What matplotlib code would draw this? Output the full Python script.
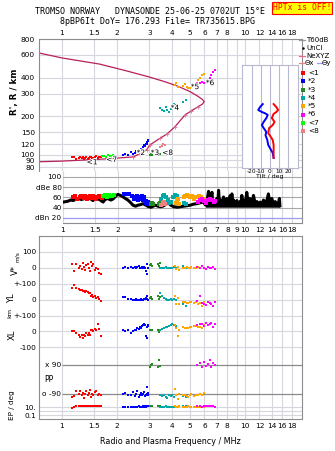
import matplotlib
matplotlib.use("Agg")
import numpy as np
import matplotlib.pyplot as plt
import matplotlib.patheffects as pe
from matplotlib.lines import Line2D

W, H = 335, 451

FREQ_TICKS = [1, 1.5, 2, 3, 4, 5, 6, 7, 8, 10, 12, 14, 16, 18]
FREQ_TICKS_MID = [1, 1.5, 2, 3, 4, 5, 6, 7, 8, 9, 10, 12, 14, 16, 18]
HEIGHT_TICKS = [80, 90, 100, 120, 150, 200, 300, 400, 600, 800]
AMP_TICKS = [100, 80, 60, 40, 20]
AMP_TICK_LABELS = ["100", "dBe 80", "60", "40", "dBn 20"]

# model / real height profile (MHz, km)
PROFILE_F = [0.75, 1.0, 1.6, 2.2, 3.0, 3.65, 4.3, 5.0, 5.5, 5.85, 5.99, 5.85, 5.55,
             5.1, 4.7, 4.14, 3.75, 3.43, 3.02, 2.9, 2.67, 2.45, 2.0, 1.61, 1.0, 0.75]
PROFILE_H = [622, 569, 510, 455, 404, 371, 342, 311, 287, 270, 259, 248, 237,
             220, 204, 165, 145, 134, 119, 109, 102, 96, 94, 92, 89, 88]

# echo groups: frequency, virtual height, amplitude, V*, YL, XL, PP, EP
ECHO1_F = [1.14, 1.17, 1.20, 1.24, 1.26, 1.28, 1.30, 1.32, 1.34, 1.36, 1.38,
           1.40, 1.42, 1.44, 1.46, 1.48, 1.51, 1.54, 1.57, 1.60, 1.64]
ECHO1_H = [95, 96, 93, 94, 95, 94, 96, 93, 94, 95, 93, 94, 96, 95, 93, 94, 95, 97, 94, 96, 95]
ECHO1_AMP = [60, 62, 58, 61, 63, 60, 59, 62, 61, 58, 60, 63, 61, 59, 62, 60, 58, 61, 63, 60, 59]
ECHO1_V = [23, -23, 19, -2, 8, -8, 29, 4, -13, 13, 19, -2, -23, 33, 8, 19, -13, -2, -8, -33, -38]
ECHO1_YL = [69, 90, 75, 67, 60, 58, 52, 55, 48, 52, 46, 42, 38, 21, 31, 17, 25, 10, 17, 5, -10]
ECHO1_XL = [2, 2, -10, -19, -33, -25, -40, -19, -30, -8, -25, -8, -19, 8, 12, 2, 17, 8, 44, 17, -29]
ECHO1_PP = [-107, -102, -75, -90, -69, -96, -82, -117, -90, -75, -96, -86, -65, -107,
            -90, -96, -80, -70, -95, -90, -100]
ECHO1_EP = [7, 12, 16, 18, 15, 17, 18, 16, 14, 18, 17, 15, 18, 16, 17, 15, 18, 16, 14, 17, 15]

ECHO2_F = [2.16, 2.22, 2.30, 2.38, 2.45, 2.50, 2.55, 2.58, 2.62, 2.66, 2.70,
           2.73, 2.76, 2.80, 2.84, 2.87, 2.90, 2.92, 2.94, 2.96]
ECHO2_H = [100, 101, 99, 105, 102, 103, 106, 104, 109, 107, 110, 108, 114, 118,
           116, 122, 125, 120, 127, 131]
ECHO2_AMP = [67, 66, 67, 62, 58, 60, 63, 56, 61, 58, 62, 57, 55, 60, 54, 50, 48, 51, 49, 50]
ECHO2_V = [0, 2, -2, 4, 0, 6, -4, 2, 8, -2, 0, 4, -6, 2, 0, -23, -38, 19, 0, -4]
ECHO2_YL = [17, 15, 5, 2, 0, -4, 4, -2, 0, -6, 2, -2, 0, 4, 6, 10, 25, 2, 0, -2]
ECHO2_XL = [8, 4, 12, -8, 6, 12, 10, 23, 18, 29, 25, 35, 38, 44, 40, -29, -40, 30, 35, 42]
ECHO2_PP = [-90, -85, -100, -95, -80, -105, -90, -75, -110, -95, -85, -100, -90,
            -80, -105, -95, -50, -90, -100, -85]
ECHO2_EP = [8, 10, 12, 9, 11, 13, 10, 12, 14, 11, 12, 13, 15, 12, 14, 13, 16, 14, 15, 17]

ECHO3_F = [3.04, 3.08, 3.12, 3.36, 3.40, 3.44]
ECHO3_H = [100, 101, 99, 100, 102, 101]
ECHO3_AMP = [48, 49, 47, 48, 50, 49]
ECHO3_V = [15, 25, 10, 20, 8, 30]
ECHO3_YL = [10, 17, 4, 25, 5, 15]
ECHO3_XL = [12, 10, 12, 8, -5, 10]
ECHO3_PP = [80, 88, 95, 75, 120, 85]
ECHO3_EP = [17, 18, 16, 15, 17, 18]

ECHO4_F = [3.45, 3.52, 3.60, 3.68, 3.76, 3.84, 3.92, 4.00, 4.10, 4.20, 4.60, 4.75]
ECHO4_H = [230, 222, 218, 236, 225, 215, 228, 240, 250, 245, 258, 268]
ECHO4_AMP = [58, 62, 65, 60, 55, 50, 52, 60, 64, 62, 50, 48]
ECHO4_V = [0, -3, -5, 2, 0, -4, 0, -2, 3, 0, 10, -4]
ECHO4_YL = [38, 25, 11, 4, -4, 0, 2, -6, 6, 0, -31, -40]
ECHO4_XL = [12, 18, 23, 26, 29, 34, 38, 44, 40, 33, 30, 25]
ECHO4_PP = [-100, -105, -96, -110, -117, -100, -105, -96, -110, -100, -105, -109]
ECHO4_EP = [10, 12, 9, 14, 11, 13, 10, 12, 9, 11, 16, 18]

ECHO5_F = [4.15, 4.22, 4.28, 4.35, 4.60, 4.70, 4.80, 4.90, 5.00, 5.10, 5.25,
           5.40, 5.55, 5.70, 5.85, 6.00]
ECHO5_H = [350, 365, 340, 335, 345, 355, 338, 332, 330, 340, 345, 350, 385, 400, 415, 430]
ECHO5_AMP = [50, 55, 58, 48, 60, 62, 64, 62, 60, 63, 58, 60, 62, 60, 58, 56]
ECHO5_V = [10, -10, 5, -15, 0, -5, 2, -3, 0, 5, -2, 0, 3, -4, 8, 0]
ECHO5_YL = [20, -30, 10, -25, -15, -18, -20, -22, -16, -18, -20, -14, -25, -20, -40, -18]
ECHO5_XL = [40, 20, -30, 10, 30, 20, 25, 22, 28, 30, 32, 35, 30, 28, 25, 40]
ECHO5_PP = [-60, -100, -120, -90, -100, -95, -105, -110, -98, -92, -104, -100,
            -96, -90, -100, -85]
ECHO5_EP = [15, 12, 9, 14, 10, 12, 9, 14, 11, 10, 13, 9, 12, 10, 11, 13]

ECHO6_F = [5.50, 5.65, 5.80, 5.95, 6.10, 6.25, 6.40, 6.55, 6.70, 6.85]
ECHO6_H = [362, 365, 368, 360, 370, 366, 400, 420, 440, 460]
ECHO6_AMP = [52, 56, 58, 54, 50, 55, 58, 56, 52, 54]
ECHO6_V = [5, -5, 10, 0, -8, 3, -3, 0, 2, -10]
ECHO6_YL = [-10, 21, -20, -25, -35, -15, -20, -30, -40, -15]
ECHO6_XL = [40, 45, 50, 35, 54, 40, 48, 52, 30, 45]
ECHO6_PP = [90, 100, 75, 110, 85, 95, 120, 80, 100, 90]
ECHO6_EP = [14, 16, 13, 18, 15, 14, 16, 17, 15, 13]

ECHO7_F = [1.66, 1.70, 1.74, 1.78, 1.82, 1.86, 1.90]
ECHO7_H = [97, 98, 96, 99, 97, 98, 99]
ECHO7_AMP = [62, 64, 61, 65, 63, 62, 64]

ECHO8_F = [3.45, 3.52, 3.58, 3.65]
ECHO8_H = [114, 117, 120, 118]
ECHO8_AMP = [46, 49, 51, 47]

LABEL_TEXT = ["<1", "*2", "*3", "*4", "*5", "*6", "<7", "<8"]
LABEL_F = [1.46, 2.70, 3.22, 4.14, 5.33, 6.44, 1.87, 3.78]
LABEL_H = [87, 103, 103, 231, 337, 362, 91, 103]

# background amplitude trace
AMP_F = [1.00, 1.04, 1.07, 1.10, 1.14, 1.18, 1.22, 1.26, 1.29, 1.33, 1.37, 1.41,
         1.46, 1.50, 1.55, 1.60, 1.66, 1.70, 1.76, 1.83, 1.88, 1.95, 2.00, 2.07,
         2.14, 2.20, 2.27, 2.35, 2.42, 2.50, 2.58, 2.66, 2.75, 2.85, 2.95, 3.05,
         3.12, 3.22, 3.32, 3.43, 3.53, 3.65, 3.78, 3.90, 4.05, 4.24, 4.40, 4.60,
         4.80, 5.00, 5.20, 5.45, 5.70, 5.90, 6.05, 6.16, 6.29, 6.36, 6.43, 6.57,
         6.64, 6.70, 6.85, 6.99, 7.07, 7.14, 7.22, 7.30, 7.45, 7.60, 7.75, 7.93,
         8.10, 8.27, 8.36, 8.45, 8.54, 8.63, 8.80, 9.00, 9.19, 9.38, 9.48, 9.58,
         9.68, 9.78, 10.0, 10.2, 10.4, 10.6, 10.85, 11.1, 11.35, 11.6, 11.85,
         12.1, 12.35, 12.6, 13.0, 13.4, 13.7, 14.0, 14.3, 14.6, 14.9, 15.15, 15.4, 15.5]
AMP_DB = [51, 52, 53, 55, 54, 57, 58, 56, 57, 59, 60, 58, 54, 57, 58, 55, 51, 56,
          58, 55, 57, 63, 66, 64, 61, 58, 55, 50, 45, 43, 45, 46, 48, 45, 42, 41,
          43, 45, 43, 42, 43, 46, 50, 45, 42, 41, 42, 43, 44, 45, 47, 48, 50, 51,
          45, 52, 72, 48, 55, 70, 46, 52, 48, 58, 46, 74, 47, 55, 50, 61, 47, 58,
          48, 64, 50, 67, 46, 55, 48, 54, 46, 52, 48, 64, 47, 55, 48, 70, 46, 58,
          48, 64, 47, 52, 48, 51, 45, 55, 47, 67, 46, 58, 45, 52, 48, 45, 58, 44]

# tilt profiles (deg vs km)
TILT_X_DEG = [4, 7, 9, 7, 4, 2, 5, 3, -1, -2, 1, 3, 4, 4, 4]
TILT_X_H = [248, 235, 223, 215, 208, 193, 180, 170, 161, 147, 137, 130, 119, 105, 94]
TILT_Y_DEG = [-8, -11, -13, -9, -6, -2.5, -4, -7, -9, -7, -4, -5, -3, -2, 1, 3, 4]
TILT_Y_H = [248, 235, 223, 215, 211, 204, 193, 180, 170, 161, 150, 142, 130, 119, 109, 103, 94]

GREY = "#8c8c8c"
GRID = "#d6d6de"
PROFILE_COLOR = "#b8205a"


def fx(px):
    return px / W


def fy(py):
    return 1 - py / H


def ep_pos(ep):
    return -172 + 25 * (np.log10(np.asarray(ep, dtype=float)) - 1)


def fmt_freq(v):
    return "1.5" if v == 1.5 else str(int(v))


fig = plt.figure(figsize=(W / 100, H / 100), dpi=100)
plt.rcParams["font.family"] = "DejaVu Sans"

groups = [
    ("<1", "#ff0000", ECHO1_F, ECHO1_H, ECHO1_AMP),
    ("*2", "#0000ff", ECHO2_F, ECHO2_H, ECHO2_AMP),
    ("*3", "#228b22", ECHO3_F, ECHO3_H, ECHO3_AMP),
    ("*4", "#00a8a8", ECHO4_F, ECHO4_H, ECHO4_AMP),
    ("*5", "#ffa500", ECHO5_F, ECHO5_H, ECHO5_AMP),
    ("*6", "#ff00ff", ECHO6_F, ECHO6_H, ECHO6_AMP),
    ("<7", "#00ff00", ECHO7_F, ECHO7_H, ECHO7_AMP),
    ("<8", "#f08080", ECHO8_F, ECHO8_H, ECHO8_AMP),
]
lower_groups = [
    ("#ff0000", ECHO1_F, ECHO1_V, ECHO1_YL, ECHO1_XL, ECHO1_PP, ECHO1_EP),
    ("#0000ff", ECHO2_F, ECHO2_V, ECHO2_YL, ECHO2_XL, ECHO2_PP, ECHO2_EP),
    ("#228b22", ECHO3_F, ECHO3_V, ECHO3_YL, ECHO3_XL, ECHO3_PP, ECHO3_EP),
    ("#00a8a8", ECHO4_F, ECHO4_V, ECHO4_YL, ECHO4_XL, ECHO4_PP, ECHO4_EP),
    ("#ffa500", ECHO5_F, ECHO5_V, ECHO5_YL, ECHO5_XL, ECHO5_PP, ECHO5_EP),
    ("#ff00ff", ECHO6_F, ECHO6_V, ECHO6_YL, ECHO6_XL, ECHO6_PP, ECHO6_EP),
]

XMIN, XMAX = 0.749, 20.49
MS = 2.0
TICK_FS = 5.3

# ---- top: virtual height panel ----
ax = fig.add_axes([fx(39), fy(171), fx(302) - fx(39), fy(39) - fy(171)])
ax.set_xscale("log")
ax.set_yscale("log")
ax.set_xlim(XMIN, XMAX)
ax.set_ylim(74.5, 800)
for f in FREQ_TICKS_MID:
    ax.axvline(f, color=GRID, lw=0.8, zorder=0)
for h in HEIGHT_TICKS:
    ax.axhline(h, color=GRID, lw=0.8, zorder=0)
ax.set_xticks(FREQ_TICKS)
ax.set_xticklabels([fmt_freq(v) for v in FREQ_TICKS])
ax.xaxis.set_minor_locator(plt.NullLocator())
ax.set_yticks(HEIGHT_TICKS)
ax.set_yticklabels([str(v) for v in HEIGHT_TICKS])
ax.yaxis.set_minor_locator(plt.NullLocator())
ax.tick_params(axis="x", top=True, bottom=False, labeltop=True, labelbottom=False,
               length=0, pad=2, labelsize=TICK_FS)
ax.tick_params(axis="y", length=0, pad=3, labelsize=TICK_FS)
for s in ax.spines.values():
    s.set_color(GREY)
    s.set_linewidth(0.8)
ax.spines["bottom"].set_visible(False)

ax.plot(PROFILE_F, PROFILE_H, color=PROFILE_COLOR, lw=0.9, zorder=2)
ax.plot(PROFILE_F[12:22], PROFILE_H[12:22], ls="none", marker="+", ms=3,
        mew=0.6, color="#e07090", zorder=2)
for label, color, fs, hs, amps in groups:
    ax.plot(fs, hs, ls="none", marker="s", ms=MS, mew=0, color=color, zorder=3)
for t, f, h in zip(LABEL_TEXT, LABEL_F, LABEL_H):
    ax.text(f, h, t, fontsize=5.3, color="black", ha="center", va="center", zorder=4,
            path_effects=[pe.withStroke(linewidth=1.5, foreground="white")])

fig.text(fx(14), fy(92), "R', R / km", rotation=90, ha="center", va="center",
         fontsize=6.2, fontweight="bold")

# ---- amplitude panel ----
amp = fig.add_axes([fx(63), fy(223), fx(302) - fx(63), fy(171) - fy(223)])
amp.set_xscale("log")
amp.set_xlim(1.0127, XMAX)
amp.set_ylim(10.2, 111.7)
for f in FREQ_TICKS_MID:
    amp.axvline(f, color=GRID, lw=0.8, zorder=0)
for d in [100, 80, 60, 40]:
    amp.axhline(d, color="#a8a8a8", lw=0.8, zorder=0)
amp.axhline(20, color="#9c9cf0", lw=0.9, zorder=0)
amp_f = np.array(AMP_F)
amp_db = np.array(AMP_DB)
spiky = amp_f >= 6.0
amp.fill_between(amp_f[spiky], 41, amp_db[spiky], color="black", lw=0, zorder=1)
amp.plot(AMP_F, AMP_DB, color="black", lw=2.2, zorder=2)
for label, color, fs, hs, amps in groups:
    amp.plot(fs, amps, ls="none", marker="s", ms=MS + 0.4, mew=0, color=color, zorder=3)
amp.set_xticks(FREQ_TICKS_MID)
amp.set_xticklabels([fmt_freq(v) for v in FREQ_TICKS_MID])
amp.xaxis.set_minor_locator(plt.NullLocator())
amp.set_yticks(AMP_TICKS)
amp.set_yticklabels(AMP_TICK_LABELS)
amp.tick_params(axis="x", length=0, pad=3, labelsize=TICK_FS)
amp.tick_params(axis="y", length=0, pad=1, labelsize=TICK_FS)
for s in amp.spines.values():
    s.set_color(GREY)
    s.set_linewidth(0.8)
amp.spines["left"].set_visible(False)
amp.spines["top"].set_visible(False)
amp.patch.set_alpha(0)

# ---- tilt inset (drawn above the amplitude panel) ----
ins = fig.add_axes([fx(242), fy(168), fx(298) - fx(242), fy(65) - fy(168)])
ins.set_zorder(5)
ins.set_yscale("log")
ins.set_xlim(-31, 31)
ins.set_ylim(78.5, 501)
for d in [-20, -10, 0, 10, 20]:
    ins.axvline(d, color="#b8b8d0", lw=0.8, zorder=0)
ins.plot(TILT_Y_DEG, TILT_Y_H, color="#0000ff", lw=1.4)
ins.plot(TILT_X_DEG, TILT_X_H, color="#ff0000", lw=1.4)
ins.set_xticks([-20, -10, 0, 10, 20])
ins.set_xticklabels(["-20", "-10", "0", "10", "20"])
ins.set_yticks([])
ins.yaxis.set_minor_locator(plt.NullLocator())
ins.tick_params(axis="x", length=0, pad=1, labelsize=4.2)
ins.set_xlabel("Tilt / deg", fontsize=4.4, labelpad=0)
for s in ins.spines.values():
    s.set_color("#b8b8d0")
    s.set_linewidth(0.8)

# ---- lower panel: V*, YL, XL, PP, EP ----
low = fig.add_axes([fx(39), fy(419), fx(302) - fx(39), fy(236) - fy(419)])
low.set_xscale("log")
low.set_xlim(XMIN, XMAX)
low.set_ylim(-246.9, 896.9)
for f in FREQ_TICKS_MID:
    low.axvline(f, color=GRID, lw=0.8, zorder=0)
for u in [800, 700, 600, 500, 400, 300, 200]:
    low.axhline(u, color=GRID, lw=0.8, zorder=0)
for u in ep_pos([10, 1, 0.1]):
    low.axhline(u, color=GRID, lw=0.8, zorder=0)
low.hlines([90, -90], 1.0, XMAX, color="#8a8a8a", lw=0.9, zorder=1)
for color, fs, v, yl, xl, pp, ep in lower_groups:
    kw = dict(ls="none", marker="s", ms=MS, mew=0, color=color, zorder=3)
    low.plot(fs, np.array(v) + 700, **kw)
    low.plot(fs, np.array(yl) + 500, **kw)
    low.plot(fs, np.array(xl) + 300, **kw)
    low.plot(fs, pp, **kw)
    low.plot(fs, ep_pos(ep), **kw)
low_ticks = [800, 700, 600, 500, 400, 300, 200] + list(ep_pos([10, 0.1]))
low.set_yticks(low_ticks)
low.set_yticklabels(["100", "0", "+-100", "0", "+-100", "0", "-100", "10.", "0.1"])
low.set_xticks(FREQ_TICKS)
low.set_xticklabels([fmt_freq(v) for v in FREQ_TICKS])
low.xaxis.set_minor_locator(plt.NullLocator())
low.tick_params(axis="x", length=0, pad=3, labelsize=TICK_FS)
low.tick_params(axis="y", length=0, pad=2, labelsize=TICK_FS)
for s in low.spines.values():
    s.set_color(GREY)
    s.set_linewidth(0.8)
low.text(0.985, 90, "x 90", ha="right", va="center", fontsize=TICK_FS)
low.text(0.985, -90, "o -90", ha="right", va="center", fontsize=TICK_FS)
low.text(0.80, 0, "PP", ha="left", va="center", fontsize=TICK_FS + 0.3)
low.set_xlabel("Radio and Plasma Frequency / MHz", fontsize=5.8, labelpad=6)

fig.text(fx(15), fy(270), "V*", rotation=90, ha="center", va="center", fontsize=6)
fig.text(fx(18), fy(257), "m/s", rotation=90, ha="center", va="center", fontsize=4.2)
fig.text(fx(12), fy(298), "YL", rotation=90, ha="center", va="center", fontsize=6)
fig.text(fx(10), fy(313), "km", rotation=90, ha="center", va="center", fontsize=4.6)
fig.text(fx(12), fy(335), "XL", rotation=90, ha="center", va="center", fontsize=6)
fig.text(fx(12), fy(405), "EP / deg", rotation=90, ha="center", va="center", fontsize=5.2)

# ---- header ----
fig.text(fx(150), fy(12), "TROMSO NORWAY   DYNASONDE 25-06-25 0702UT 15\u00b0E",
         ha="center", va="center", fontsize=6, family="DejaVu Sans Mono")
fig.text(fx(157), fy(21), "8pBP6It DoY= 176.293 File= TR735615.BPG",
         ha="center", va="center", fontsize=6, family="DejaVu Sans Mono")
fig.text(fx(302), fy(8), "HPTx is OFF!", ha="center", va="center", fontsize=5.8,
         family="DejaVu Sans Mono", color="#ff0000",
         bbox=dict(boxstyle="square,pad=0.15", facecolor="#ffff00", edgecolor="#ff0000", lw=0.8))


# ---- legend ----
def leg_line(y, x0, x1, color):
    fig.add_artist(Line2D([fx(x0), fx(x1)], [fy(y), fy(y)], color=color, lw=0.9))


leg_line(40, 299, 305, "#999999")
fig.text(fx(306), fy(40), "T60dB", fontsize=5, va="center")
fig.add_artist(Line2D([fx(303)], [fy(48)], color="black", marker=".", ms=1.5, ls="none"))
fig.text(fx(306), fy(48), "UnCl", fontsize=5, va="center")
leg_line(56, 299, 305, "#e07090")
fig.add_artist(Line2D([fx(302)], [fy(56)], color="#e07090", marker="+", ms=3.5, mew=0.6, ls="none"))
fig.text(fx(306), fy(56), "NeXYZ", fontsize=5, va="center")
leg_line(63, 299, 304, "#f08080")
fig.text(fx(305), fy(63), "\u0398x", fontsize=5, va="center")
leg_line(63, 317, 322, "#9999ff")
fig.text(fx(322), fy(63), "\u0398y", fontsize=5, va="center")
for i, (label, color, fs, hs, amps) in enumerate(groups):
    y = 73 + 8.3 * i
    fig.add_artist(Line2D([fx(303)], [fy(y)], color=color, marker="s", ms=2.6, mew=0, ls="none"))
    fig.text(fx(308), fy(y), label, fontsize=5.3, va="center")

fig.savefig("out.png", dpi=100)
